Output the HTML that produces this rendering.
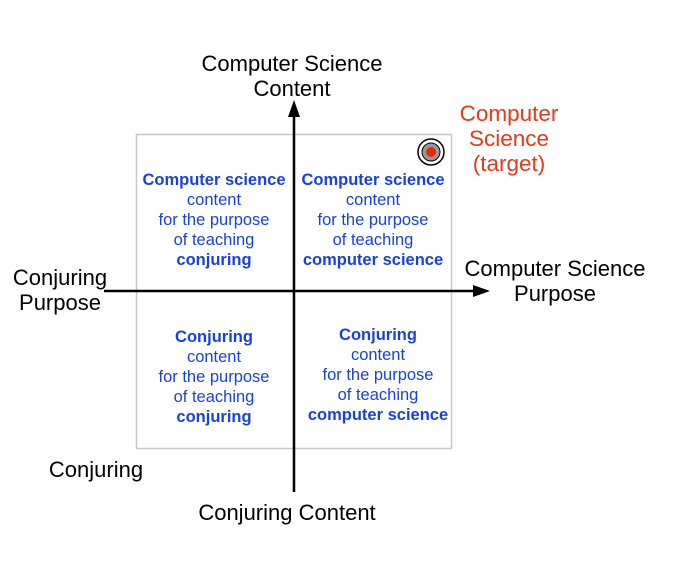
<!DOCTYPE html>
<html><head><style>
body{margin:0;width:694px;height:572px;background:#fff;position:relative;font-family:"Liberation Sans",sans-serif;overflow:hidden}
.t{position:absolute;text-align:center;white-space:nowrap;transform:translateX(-50%)}
.q{color:#1a3fe0;font-size:16.5px;line-height:20px}
.l{color:#000;font-size:22px;line-height:25px}
b{font-weight:bold}
</style></head><body>
<svg width="694" height="572" style="position:absolute;left:0;top:0">
<rect x="136.5" y="134.5" width="315" height="314" fill="none" stroke="#c8c8c8" stroke-width="1.5"/>
<line x1="294" y1="112" x2="294" y2="492" stroke="#000" stroke-width="2.5"/>
<polygon points="294,100 288,117 300,117" fill="#000"/>
<line x1="104" y1="291" x2="476" y2="291" stroke="#000" stroke-width="2.5"/>
<polygon points="490,291 473,285 473,297" fill="#000"/>
<circle cx="431" cy="152" r="13" fill="#fff" stroke="#000" stroke-width="1.5"/>
<circle cx="431" cy="152" r="9" fill="#999" stroke="#000" stroke-width="1"/>
<circle cx="431" cy="152" r="5" fill="#e52a12"/>
</svg>
<div class="t l" style="left:292px;top:51px">Computer Science<br>Content</div>
<div class="t" style="left:509px;top:101px;color:#e33a1a;font-size:22.5px;line-height:25px">Computer<br>Science<br>(target)</div>
<div class="t l" style="left:60px;top:265px">Conjuring<br>Purpose</div>
<div class="t l" style="left:555px;top:256px">Computer Science<br>Purpose</div>
<div class="t l" style="left:96px;top:457px">Conjuring</div>
<div class="t l" style="left:287px;top:500px">Conjuring Content</div>
<div class="t q" style="left:214px;top:170px"><b>Computer science</b><br>content<br>for the purpose<br>of teaching<br><b>conjuring</b></div>
<div class="t q" style="left:373px;top:170px"><b>Computer science</b><br>content<br>for the purpose<br>of teaching<br><b>computer science</b></div>
<div class="t q" style="left:214px;top:327px"><b>Conjuring</b><br>content<br>for the purpose<br>of teaching<br><b>conjuring</b></div>
<div class="t q" style="left:378px;top:325px"><b>Conjuring</b><br>content<br>for the purpose<br>of teaching<br><b>computer science</b></div>
</body></html>
